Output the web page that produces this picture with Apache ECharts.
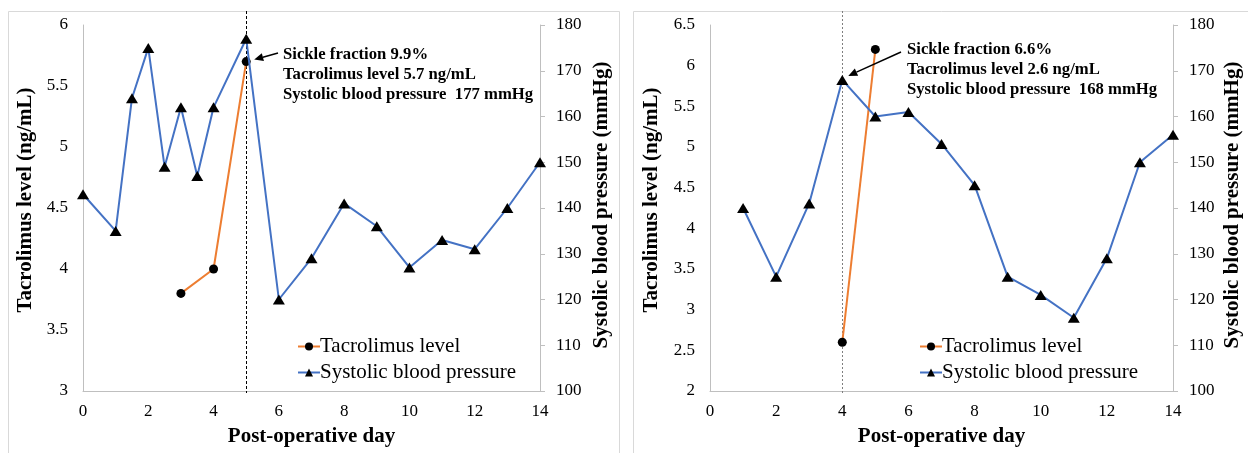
<!DOCTYPE html>
<html>
<head>
<meta charset="utf-8">
<script src="https://cdn.jsdelivr.net/npm/echarts@6/dist/echarts.min.js"></script>
<style>
html,body{margin:0;padding:0;background:#fff;}
#c{width:1248px;height:453px;}
</style>
</head>
<body>
<div id="c"></div>
<script>
// ---- Data ----
const bpDaysA = [0, 1, 1.5, 2, 2.5, 3, 3.5, 4, 5, 6, 7, 8, 9, 10, 11, 12, 13, 14];
const bpA = [143, 135, 164, 175, 149, 162, 147, 162, 177, 120, 129, 141, 136, 127, 133, 131, 140, 150];
const tacDaysA = [3, 4, 5];
const tacA = [3.8, 4.0, 5.7];
const eventDayA = 5;
const noteA = ['Sickle fraction 9.9%', 'Tacrolimus level 5.7 ng/mL', 'Systolic blood pressure  177 mmHg'];

const bpDaysB = [1, 2, 3, 4, 5, 6, 7, 8, 9, 10, 11, 12, 13, 14];
const bpB = [140, 125, 141, 168, 160, 161, 154, 145, 125, 121, 116, 129, 150, 156];
const tacDaysB = [4, 5];
const tacB = [2.6, 6.2];
const eventDayB = 4;
const noteB = ['Sickle fraction 6.6%', 'Tacrolimus level 2.6 ng/mL', 'Systolic blood pressure  168 mmHg'];

const seriesNames = ['Tacrolimus level', 'Systolic blood pressure'];
const xTitle = 'Post-operative day';
const yTitleL = 'Tacrolimus level (ng/mL)';
const yTitleR = 'Systolic blood pressure (mmHg)';

// ---- Styles ----
const FONT = '"Liberation Serif", "Times New Roman", serif';
const BLUE = '#4472C4', ORANGE = '#ED7D31', AXIS = '#bfbfbf';

function pairs(xs, ys) { return xs.map((x, i) => [x, ys[i]]); }

function xAxisDef(gi) {
  return {
    gridIndex: gi, type: 'value', min: 0, max: 14, interval: 2,
    name: xTitle, nameLocation: 'middle', nameGap: 35,
    nameTextStyle: { fontFamily: FONT, fontSize: 21, fontWeight: 'bold', color: '#000' },
    axisLine: { show: true, onZero: false, lineStyle: { color: AXIS, width: 1 } },
    axisTick: { show: false },
    axisLabel: { fontFamily: FONT, fontSize: 17, color: '#000', margin: 12 },
    splitLine: { show: false }
  };
}
function yLeftDef(gi, min, max, gap) {
  return {
    gridIndex: gi, type: 'value', min: min, max: max, interval: 0.5, position: 'left',
    name: yTitleL, nameLocation: 'middle', nameGap: gap, nameRotate: 90,
    nameTextStyle: { fontFamily: FONT, fontSize: 21, fontWeight: 'bold', color: '#000', padding: [0, 0, 0, 16] },
    axisLine: { show: true, lineStyle: { color: AXIS, width: 1 } },
    axisTick: { show: false },
    axisLabel: { fontFamily: FONT, fontSize: 17, color: '#000', margin: 15 },
    splitLine: { show: false }
  };
}
function yRightDef(gi, gap) {
  return {
    gridIndex: gi, type: 'value', min: 100, max: 180, interval: 10, position: 'right',
    name: yTitleR, nameLocation: 'middle', nameGap: gap, nameRotate: 90,
    nameTextStyle: { fontFamily: FONT, fontSize: 21, fontWeight: 'bold', color: '#000', padding: [0, 0, 0, 6] },
    axisLine: { show: true, lineStyle: { color: AXIS, width: 1 } },
    axisTick: { show: true, length: 5, lineStyle: { color: AXIS } },
    axisLabel: { fontFamily: FONT, fontSize: 17, color: '#000', margin: 16 },
    splitLine: { show: false }
  };
}
function tacSeries(xi, yi, data) {
  return {
    name: seriesNames[0], type: 'line', xAxisIndex: xi, yAxisIndex: yi, data: data,
    symbol: 'circle', symbolSize: 9, z: 3,
    lineStyle: { color: ORANGE, width: 2 },
    itemStyle: { color: '#000' }, animation: false
  };
}
function bpSeries(xi, yi, data) {
  return {
    name: seriesNames[1], type: 'line', xAxisIndex: xi, yAxisIndex: yi, data: data,
    symbol: 'triangle', symbolSize: [12, 10], z: 4,
    lineStyle: { color: BLUE, width: 2 },
    itemStyle: { color: '#000' }, animation: false
  };
}
function legendDef(left) {
  return {
    left: left, top: 331, orient: 'vertical', itemGap: 5, itemWidth: 22, itemHeight: 10,
    data: seriesNames, selectedMode: false,
    textStyle: { fontFamily: FONT, fontSize: 21, color: '#000', padding: [0, 0, 0, -5] }
  };
}

const chart = echarts.init(document.getElementById('c'), null, { renderer: 'canvas' });
chart.setOption({
  animation: false,
  backgroundColor: '#fff',
  grid: [
    { left: 83, top: 25, width: 457, height: 366 },
    { left: 710, top: 25, width: 463, height: 366 }
  ],
  xAxis: [xAxisDef(0), xAxisDef(1)],
  yAxis: [yLeftDef(0, 3, 6, 47), yRightDef(0, 51), yLeftDef(1, 2, 6.5, 48), yRightDef(1, 49)],
  legend: [legendDef(292), legendDef(914)],
  series: [
    tacSeries(0, 0, pairs(tacDaysA, tacA)),
    bpSeries(0, 1, pairs(bpDaysA, bpA)),
    tacSeries(1, 2, pairs(tacDaysB, tacB)),
    bpSeries(1, 3, pairs(bpDaysB, bpB))
  ]
});

// ---- Annotations built from library scales ----
function arrow(tail, head, color) {
  const dx = head[0] - tail[0], dy = head[1] - tail[1];
  const len = Math.sqrt(dx * dx + dy * dy), ux = dx / len, uy = dy / len;
  const hl = 9, hw = 4;
  const base = [head[0] - ux * hl, head[1] - uy * hl];
  return [
    { type: 'line', shape: { x1: tail[0], y1: tail[1], x2: base[0], y2: base[1] },
      style: { stroke: color, lineWidth: 1.5 }, z: 50 },
    { type: 'polygon', shape: { points: [head, [base[0] - uy * hw, base[1] + ux * hw], [base[0] + uy * hw, base[1] - ux * hw]] },
      style: { fill: color }, z: 50 }
  ];
}
function noteText(x, y, lines) {
  return { type: 'text', x: x, y: y, z: 50,
    style: { text: lines.join('\n'), font: 'bold 16.7px ' + FONT, fill: '#000', lineHeight: 20, textVerticalAlign: 'top' } };
}

const ptA = chart.convertToPixel({ seriesIndex: 0 }, [eventDayA, tacA[tacDaysA.indexOf(eventDayA)]]);
const ptB = chart.convertToPixel({ seriesIndex: 3 }, [eventDayB, bpB[bpDaysB.indexOf(eventDayB)]]);
const vA = chart.convertToPixel({ gridIndex: 0 }, [eventDayA, 3]);
const vB = chart.convertToPixel({ gridIndex: 1 }, [eventDayB, 2]);

const g = [
  { type: 'rect', shape: { x: 8.5, y: 11.5, width: 611, height: 470 }, style: { fill: 'none', stroke: '#d9d9d9', lineWidth: 1 }, z: 0 },
  { type: 'rect', shape: { x: 633.5, y: 11.5, width: 640, height: 470 }, style: { fill: 'none', stroke: '#d9d9d9', lineWidth: 1 }, z: 0 },
  { type: 'line', shape: { x1: Math.round(vA[0]) + 0.5, y1: 11, x2: Math.round(vA[0]) + 0.5, y2: vA[1] + 2 },
    style: { stroke: '#000', lineWidth: 1, lineDash: [3, 2] }, z: 1 },
  { type: 'line', shape: { x1: Math.round(vB[0]) + 0.5, y1: 11, x2: Math.round(vB[0]) + 0.5, y2: vB[1] + 2 },
    style: { stroke: '#7f7f7f', lineWidth: 1, lineDash: [2, 2] }, z: 1 },
  noteText(283, 45, noteA),
  noteText(907, 40, noteB)
].concat(
  arrow([278, 53], [ptA[0] + 8, ptA[1] - 2], '#000'),
  arrow([901, 52], [ptB[0] + 6, ptB[1] - 4], '#000')
);
chart.setOption({ graphic: g });
</script>
</body>
</html>
